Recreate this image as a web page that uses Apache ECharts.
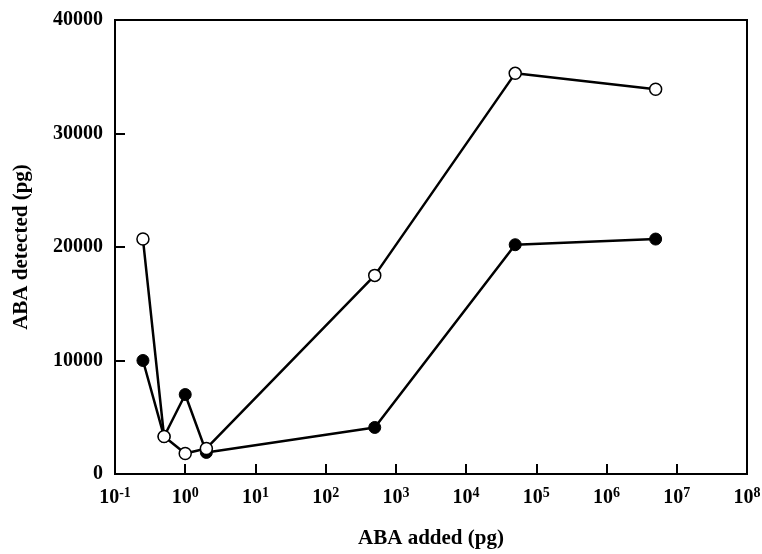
<!DOCTYPE html>
<html>
<head>
<meta charset="utf-8">
<script src="https://cdn.jsdelivr.net/npm/echarts@6/dist/echarts.min.js"></script>
<style>
  html, body { margin: 0; padding: 0; background: #fff; }
  #chart { width: 762px; height: 554px; }
</style>
</head>
<body>
<div id="chart"></div>
<script>
// ABA added (pg), log scale
const abaAdded = [0.25, 0.5, 1, 2, 500, 50000, 5000000];
// ABA detected (pg) for the two sample series
const detectedFilled = [10000, 3300, 7000, 1900, 4100, 20200, 20700];
const detectedOpen = [20700, 3300, 1800, 2250, 17500, 35300, 33900];
// y-axis ticks
const yMin = 0, yMax = 40000, yStep = 10000;

const font = '"Liberation Serif", "DejaVu Serif", serif';

function pairs(xs, ys) {
  return xs.map((x, i) => [x, ys[i]]);
}

const chart = echarts.init(document.getElementById('chart'));
chart.setOption({
  backgroundColor: '#fff',
  animation: false,
  grid: {
    left: 115, top: 20, right: 15, bottom: 80,
    outerBoundsMode: 'none',
    containLabel: false,
    show: true, borderColor: '#000', borderWidth: 2
  },
  xAxis: {
    type: 'log',
    logBase: 10,
    min: 0.1,
    max: 1e8,
    interval: 1,
    name: 'ABA added (pg)',
    nameLocation: 'middle',
    nameGap: 54,
    nameTextStyle: { fontFamily: font, fontWeight: 'bold', fontSize: 21, color: '#000' },
    axisLine: { lineStyle: { color: '#000', width: 2 } },
    axisTick: { inside: true, length: 10, lineStyle: { color: '#000', width: 2 } },
    minorTick: { show: false },
    splitLine: { show: false },
    axisLabel: {
      margin: 12,
      formatter: function (v) {
        const e = Math.round(Math.log10(v));
        return '{b|10}{s|' + e + '}';
      },
      rich: {
        b: { fontFamily: font, fontWeight: 'bold', fontSize: 20, color: '#000' },
        s: { fontFamily: font, fontWeight: 'bold', fontSize: 14, color: '#000', verticalAlign: 'bottom', padding: [0, 0, 10, 0] }
      }
    }
  },
  yAxis: {
    type: 'value',
    min: yMin,
    max: yMax,
    interval: yStep,
    name: 'ABA detected (pg)',
    nameLocation: 'middle',
    nameGap: 83,
    nameTextStyle: { fontFamily: font, fontWeight: 'bold', fontSize: 21, color: '#000' },
    axisLine: { show: true, lineStyle: { color: '#000', width: 2 } },
    axisTick: { show: true, inside: true, length: 10, lineStyle: { color: '#000', width: 2 } },
    splitLine: { show: false },
    axisLabel: {
      margin: 12,
      formatter: function (v) { return String(v); },
      fontFamily: font, fontWeight: 'bold', fontSize: 20, color: '#000'
    }
  },
  series: [
    {
      type: 'line',
      data: pairs(abaAdded, detectedFilled),
      symbol: 'circle',
      symbolSize: 12,
      lineStyle: { color: '#000', width: 2.5 },
      itemStyle: { color: '#000', borderColor: '#000', borderWidth: 1 },
      z: 2
    },
    {
      type: 'line',
      data: pairs(abaAdded, detectedOpen),
      symbol: 'circle',
      symbolSize: 12,
      showAllSymbol: true,
      lineStyle: { color: '#000', width: 2.5 },
      itemStyle: { color: '#fff', borderColor: '#000', borderWidth: 1.5 },
      z: 3
    }
  ]
});
</script>
</body>
</html>
